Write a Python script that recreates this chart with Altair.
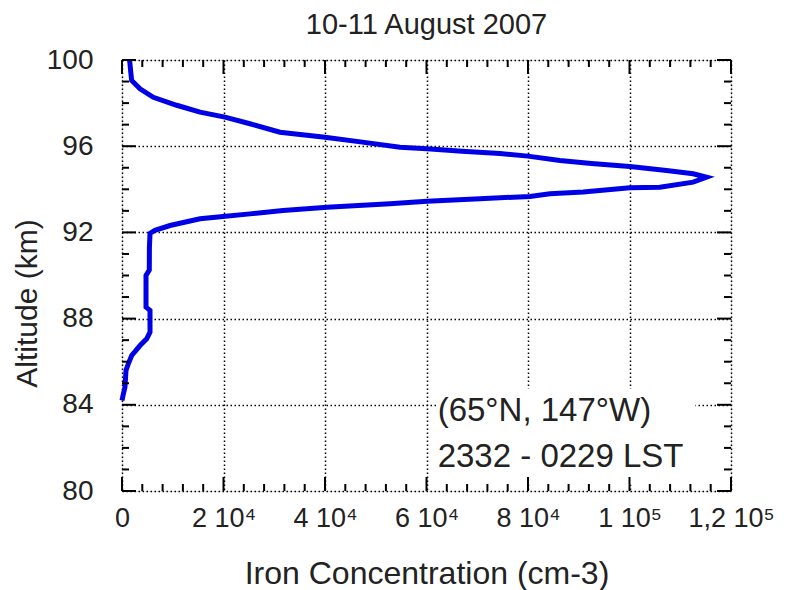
import altair as alt
import pandas as pd

# Iron concentration profile (cm-3) vs altitude (km)
altitude = [100.0, 99.5, 99.05, 98.66, 98.27, 97.9, 97.58, 97.35, 97.04, 96.65,
            96.42, 96.2, 95.95, 95.88, 95.77, 95.66, 95.54, 95.34, 95.2, 95.06,
            94.87, 94.72, 94.56, 94.33, 94.1, 94.07, 93.87, 93.79, 93.67, 93.56,
            93.45, 93.33, 93.17, 93.02, 92.86, 92.74, 92.63, 92.32, 92.1, 91.95,
            91.3, 90.25, 90.0, 88.53, 88.38, 87.37, 87.06, 86.75, 86.29, 85.9,
            85.6, 84.82, 84.43, 84.2]
concentration = [1500, 1700, 1900, 3550, 6170, 10780, 15370, 20290, 25220, 31130,
                 39990, 47000, 54770, 60090, 67000, 74470, 79980, 86290, 92500, 100080,
                 107310, 112550, 115180, 112550, 105980, 100080, 90880, 84320, 80380, 70530,
                 60090, 52800, 40390, 31720, 25220, 19900, 15370, 9460, 6500, 5520,
                 5400, 5380, 4730, 4730, 5520, 5520, 4870, 3550, 1910, 1240,
                 790, 590, 200, 0]

x_major = [0, 20000, 40000, 60000, 80000, 100000, 120000]
x_labels = ["0", "2 10\u2074", "4 10\u2074", "6 10\u2074", "8 10\u2074", "1 10\u2075", "1,2 10\u2075"]
y_major = [80, 84, 88, 92, 96, 100]
x_minor = [v for v in range(0, 120001, 4000) if v not in x_major]
y_minor = [v for v in range(80, 101) if v not in y_major]

title_text = "10-11 August 2007"
x_title = "Iron Concentration (cm-3)"
y_title = "Altitude (km)"
note_lines = ["(65\u00b0N, 147\u00b0W)", "2332 - 0229 LST"]

FONT = "Liberation Sans"
TXT = "#222222"
W, H = 609, 431

df = pd.DataFrame({"conc": concentration, "alt": altitude, "i": range(len(altitude))})

label_expr = " : ".join(
    f"datum.value == {v} ? '{l}'" for v, l in zip(x_major, x_labels)
) + " : ''"

xscale = alt.Scale(domain=[0, 120000], nice=False, zero=False)
yscale = alt.Scale(domain=[80, 100], nice=False, zero=False)

xaxis = alt.Axis(values=x_major, labelExpr=label_expr, ticks=False, domain=False,
                 grid=True, gridColor="black", gridDash=[1.5, 2.5], gridWidth=1.5,
                 gridOpacity=1, labelFont=FONT, labelFontSize=27, labelColor=TXT,
                 labelOverlap=False, labelFlush=False, labelPadding=14, title=x_title,
                 titleFont=FONT, titleFontSize=32, titleFontWeight="normal",
                 titleColor=TXT, titlePadding=27)
yaxis = alt.Axis(values=y_major, ticks=False, domain=False, grid=True,
                 gridColor="black", gridDash=[1.5, 2.5], gridWidth=1.5, gridOpacity=1,
                 labelFont=FONT, labelFontSize=28, labelColor=TXT, labelPadding=29,
                 labelOverlap=False, labelFlush=False, title=y_title, titleFont=FONT,
                 titleFontSize=30, titleFontWeight="normal", titleColor=TXT,
                 titlePadding=4, titleY=243)

base_line = alt.Chart(df).mark_line(color="#0000e6", strokeWidth=5).encode(
    x=alt.X("conc:Q", scale=xscale, axis=xaxis),
    y=alt.Y("alt:Q", scale=yscale, axis=yaxis),
    order="i:Q",
)

# white box behind the annotation
box = alt.Chart(pd.DataFrame({"a": [0]})).mark_rect(color="white").encode(
    x=alt.datum(62000, scale=xscale), x2=alt.datum(113000),
    y=alt.datum(84.75, scale=yscale), y2=alt.datum(80.3),
)

notes = []
for line, a in zip(note_lines, [83.72, 81.6]):
    notes.append(
        alt.Chart(pd.DataFrame({"a": [0]})).mark_text(
            text=line, align="left", baseline="middle", font=FONT, fontSize=33,
            color=TXT
        ).encode(x=alt.datum(62200, scale=xscale), y=alt.datum(a, scale=yscale))
    )

xmaj = pd.DataFrame({"v": x_major})
xmin = pd.DataFrame({"v": x_minor})
ymaj = pd.DataFrame({"v": y_major})
ymin = pd.DataFrame({"v": y_minor})

def xticks(d, length):
    bot = alt.Chart(d).mark_rule(color="black", strokeWidth=2).encode(
        x=alt.X("v:Q", scale=xscale), y=alt.value(H), y2=alt.value(H - length))
    top = alt.Chart(d).mark_rule(color="black", strokeWidth=2).encode(
        x=alt.X("v:Q", scale=xscale), y=alt.value(0), y2=alt.value(length))
    return [bot, top]

def yticks(d, length):
    left = alt.Chart(d).mark_rule(color="black", strokeWidth=2).encode(
        y=alt.Y("v:Q", scale=yscale), x=alt.value(0), x2=alt.value(length))
    right = alt.Chart(d).mark_rule(color="black", strokeWidth=2).encode(
        y=alt.Y("v:Q", scale=yscale), x=alt.value(W), x2=alt.value(W - length))
    return [left, right]

tick_layers = xticks(xmaj, 14) + xticks(xmin, 7) + yticks(ymaj, 14) + yticks(ymin, 7)

chart = alt.layer(base_line, box, *notes, *tick_layers).properties(
    width=W, height=H,
    title=alt.TitleParams(title_text, font=FONT, fontSize=29, fontWeight="normal",
                          color=TXT, offset=6),
    padding={"left": 122, "top": 60, "right": 56, "bottom": 99},
    autosize="none",
).configure_view(stroke="black", strokeWidth=2.5).configure(background="white")

chart.save("out.html", embed_options={"renderer": "svg", "actions": False})
